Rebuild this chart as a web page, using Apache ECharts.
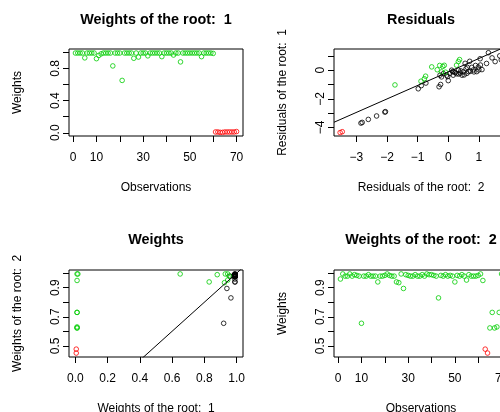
<!DOCTYPE html>
<html><head><meta charset="utf-8">
<script src="https://cdn.jsdelivr.net/npm/echarts@6/dist/echarts.min.js"></script>
<style>html,body{margin:0;padding:0;background:#fff}#c{width:500px;height:412px}</style>
</head><body><div id="c"></div>
<script>
// ---- data ----
const weightsRoot1 = [0.99,0.99,0.99,0.99,0.93,0.99,0.99,0.99,0.99,0.92,
  0.96,0.98,0.99,0.99,0.99,0.99,0.83,0.99,0.99,0.99,
  0.65,0.99,0.99,0.99,0.99,0.925,0.99,0.94,0.99,0.99,
  0.99,0.955,0.99,0.99,0.99,0.99,0.99,0.945,0.99,0.99,
  0.99,0.99,0.965,0.99,0.99,0.88,0.99,0.99,0.99,0.99,
  0.99,0.99,0.99,0.99,0.945,0.99,0.99,0.99,0.99,0.985,
  0.01,0.01,0.005,0.005,0.01,0.01,0.01,0.01,0.01,0.015];
const weightsRoot2 = [0.96,0.995,0.98,0.98,0.995,0.98,0.99,0.985,0.98,0.655,
  0.98,0.98,0.99,0.98,0.98,0.98,0.94,0.98,0.98,0.985,
  0.995,0.985,0.98,0.98,0.94,0.935,0.995,0.895,0.99,0.985,
  0.98,0.98,0.99,0.98,0.98,0.99,0.98,0.995,0.99,0.99,
  0.985,0.98,0.83,0.985,0.98,0.99,0.98,0.985,0.98,0.94,
  0.985,0.98,0.99,0.98,0.953,0.99,0.98,0.98,0.98,0.985,
  0.995,0.95,0.477,0.45,0.623,0.73,0.623,0.63,0.73,0.995];
// group of each observation in the cross plots: K black, G green, R red
const crossGroup = ['K','K','K','K','G','K','K','K','K','K',
  'K','K','K','K','K','K','G','K','K','K',
  'G','K','K','K','K','G','K','K','K','K',
  'K','G','K','K','K','K','K','G','K','K',
  'K','K','K','K','K','G','K','K','K','K',
  'K','K','K','K','G','K','K','K','K','K',
  'G','G','R','R','G','G','G','G','G','G'];
const residRed = [[-3.53,-4.36],[-3.46,-4.3]];
const residGreen = [[-1.74,-1.03],[-0.89,-0.77],[-0.78,-0.6],[-0.74,-0.42],[-0.54,0.23],[-0.36,0.03],
  [-0.28,0.33],[-0.18,0.26],[-0.13,0.34],[-0.22,-0.12],[-0.09,-0.14],[0.27,0.35],[0.33,0.6],[0.37,0.74]];
const residBlack = [[-2.85,-3.7],[-2.81,-3.65],[-2.61,-3.44],[-2.34,-3.2],[-2.07,-2.93],[-2.05,-2.9],
  [-0.98,-1.3],[-0.88,-1.08],[-0.73,-0.9],[-0.3,-1.16],[-0.25,-1.0],[-0.27,-0.35],[-0.16,-0.24],
  [-0.22,-0.47],[-0.05,-0.35],[0,-0.73],[-0.02,-0.45],[0.05,-0.23],[0.11,0],[0.16,-0.35],[0.19,-0.12],
  [0.23,-0.17],[0.27,-0.25],[0.33,0],[0.34,-0.27],[0.39,-0.2],[0.41,-0.05],[0.45,-0.35],[0.49,-0.12],
  [0.52,-0.33],[0.55,0.48],[0.58,0.1],[0.61,-0.22],[0.66,-0.1],[0.7,0.62],[0.72,-0.08],[0.77,0.2],
  [0.82,0.02],[0.84,-0.12],[0.89,0.33],[0.93,-0.1],[0.98,0.22],[1.0,0.02],[1.05,0.36],[1.04,0.8],
  [1.1,0.04],[1.25,0.47],[1.31,1.22],[1.43,0.86],[1.53,0.6],[1.68,1.0],[1.73,0.72],[0.14,-0.1],[0.62,0.2]];
const residFitCoef = [-0.126, 0.942];   // intercept, slope
const identityCoef = [0, 1];
const obsTicks = [0,10,20,30,40,50,60,70];
const obsLabels = [0,10,30,50,70];
const weightTicks1 = [0,0.2,0.4,0.6,0.8,1.0];
const weightLabels1 = [0,0.4,0.8];
const weightTicks2 = [0.5,0.6,0.7,0.8,0.9,1.0];
const weightLabels2 = [0.5,0.7,0.9];
const crossXTicks = [0,0.2,0.4,0.6,0.8,1.0];
const residXTicks = [-3,-2,-1,0,1];
const residYTicks = [-4,-3,-2,-1,0,1];
const residYLabels = [-4,-2,0];

// ---- styling ----
const GREEN = '#00CD00', RED = '#FF0000', BLACK = '#000000';
const FONT = '"Liberation Sans", Arial, Helvetica, sans-serif';
const colorOf = {K: BLACK, G: GREEN, R: RED};
const W = 174, H = 87;
const grids = [
  {left: 69, top: 49}, {left: 334, top: 49},
  {left: 69, top: 270}, {left: 334, top: 270}
].map(g => Object.assign(g, {width: W, height: H, show: true, borderColor: '#000', borderWidth: 1,
  backgroundColor: 'transparent', containLabel: false, outerBoundsMode: 'none'}));

const f1 = v => v.toFixed(1);
const fm = v => String(v).replace('-', '\u2212');
function axis(gi, min, max, ticks, labels, fmt, isY) {
  return {type: 'value', gridIndex: gi, min: min, max: max, scale: true,
    axisLine: {show: false, onZero: false},
    splitLine: {show: false},
    axisTick: {show: true, inside: false, length: 6, customValues: ticks, lineStyle: {color: '#000', width: 1}},
    axisLabel: {show: true, customValues: labels, formatter: fmt, color: '#000', fontSize: 12,
      fontFamily: FONT, margin: isY ? 7 : 16, rotate: isY ? 90 : 0, hideOverlap: false}
  };
}
const xAxes = [
  axis(0, -1.76, 72.76, obsTicks, obsLabels, fm, false),
  axis(1, -3.73, 1.95, residXTicks, residXTicks, fm, false),
  axis(2, -0.04, 1.04, crossXTicks, crossXTicks, f1, false),
  axis(3, -1.76, 72.76, obsTicks, obsLabels, fm, false)
];
const yAxes = [
  axis(0, -0.04, 1.04, weightTicks1, weightLabels1, f1, true),
  axis(1, -4.6, 1.48, residYTicks, residYLabels, fm, true),
  axis(2, 0.4228, 1.0222, weightTicks2, weightLabels2, f1, true),
  axis(3, 0.4228, 1.0222, weightTicks2, weightLabels2, f1, true)
];

function scatter(gi, data, color) {
  return {type: 'scatter', xAxisIndex: gi, yAxisIndex: gi, data: data, symbol: 'circle', symbolSize: 4.6,
    itemStyle: {color: 'rgba(0,0,0,0)', borderColor: color, borderWidth: 1}, silent: true, clip: true,
    emphasis: {disabled: true}, animation: false};
}
function abline(gi, coef, xmin, xmax) {
  return {type: 'line', xAxisIndex: gi, yAxisIndex: gi, symbol: 'none', clip: true, silent: true,
    data: [[xmin, coef[0] + coef[1] * xmin], [xmax, coef[0] + coef[1] * xmax]],
    lineStyle: {color: '#000', width: 1}, animation: false};
}

const series = [];
// panel 1: weights root 1
series.push(scatter(0, weightsRoot1.map((v, i) => [i + 1, v]).filter(p => p[1] >= 0.5), GREEN));
series.push(scatter(0, weightsRoot1.map((v, i) => [i + 1, v]).filter(p => p[1] < 0.5), RED));
// panel 2: residuals
series.push(scatter(1, residBlack, BLACK));
series.push(scatter(1, residGreen, GREEN));
series.push(scatter(1, residRed, RED));
series.push(abline(1, residFitCoef, -3.73, 1.95));
// panel 3: weights vs weights
['K', 'G', 'R'].forEach(g => {
  series.push(scatter(2, weightsRoot1.map((v, i) => [v, weightsRoot2[i], crossGroup[i]])
    .filter(p => p[2] === g).map(p => [p[0], p[1]]), colorOf[g]));
});
series.push(abline(2, identityCoef, -0.04, 1.04));
// panel 4: weights root 2
series.push(scatter(3, weightsRoot2.map((v, i) => [i + 1, v]).filter(p => p[1] >= 0.5), GREEN));
series.push(scatter(3, weightsRoot2.map((v, i) => [i + 1, v]).filter(p => p[1] < 0.5), RED));

function txt(text, x, y, opts) {
  opts = opts || {};
  return {type: 'text', x: x, y: y, rotation: opts.rot ? Math.PI / 2 : 0, silent: true,
    style: {text: text, x: 0, y: 0, fill: '#000',
      font: (opts.bold ? 'bold ' : '') + (opts.size || 12) + 'px ' + FONT,
      textAlign: 'center', textVerticalAlign: 'middle', align: 'center', verticalAlign: 'middle'}};
}
const graphic = [
  txt('Weights of the root:  1', 156, 20.5, {bold: true, size: 14.4}),
  txt('Residuals', 421, 20.5, {bold: true, size: 14.4}),
  txt('Weights', 156, 240, {bold: true, size: 14.4}),
  txt('Weights of the root:  2', 421, 240, {bold: true, size: 14.4}),
  txt('Observations', 156, 187.5),
  txt('Residuals of the root:  2', 421, 187.5),
  txt('Weights of the root:  1', 156, 408.5),
  txt('Observations', 421, 408.5),
  txt('Weights', 18, 92.5, {rot: true}),
  txt('Residuals of the root:  1', 283, 92.5, {rot: true}),
  txt('Weights of the root:  2', 18, 313.5, {rot: true}),
  txt('Weights', 283, 313.5, {rot: true})
];

const chart = echarts.init(document.getElementById('c'), null, {renderer: 'canvas'});
chart.setOption({
  backgroundColor: '#fff', animation: false,
  grid: grids, xAxis: xAxes, yAxis: yAxes, series: series, graphic: {elements: graphic}
});
</script></body></html>
